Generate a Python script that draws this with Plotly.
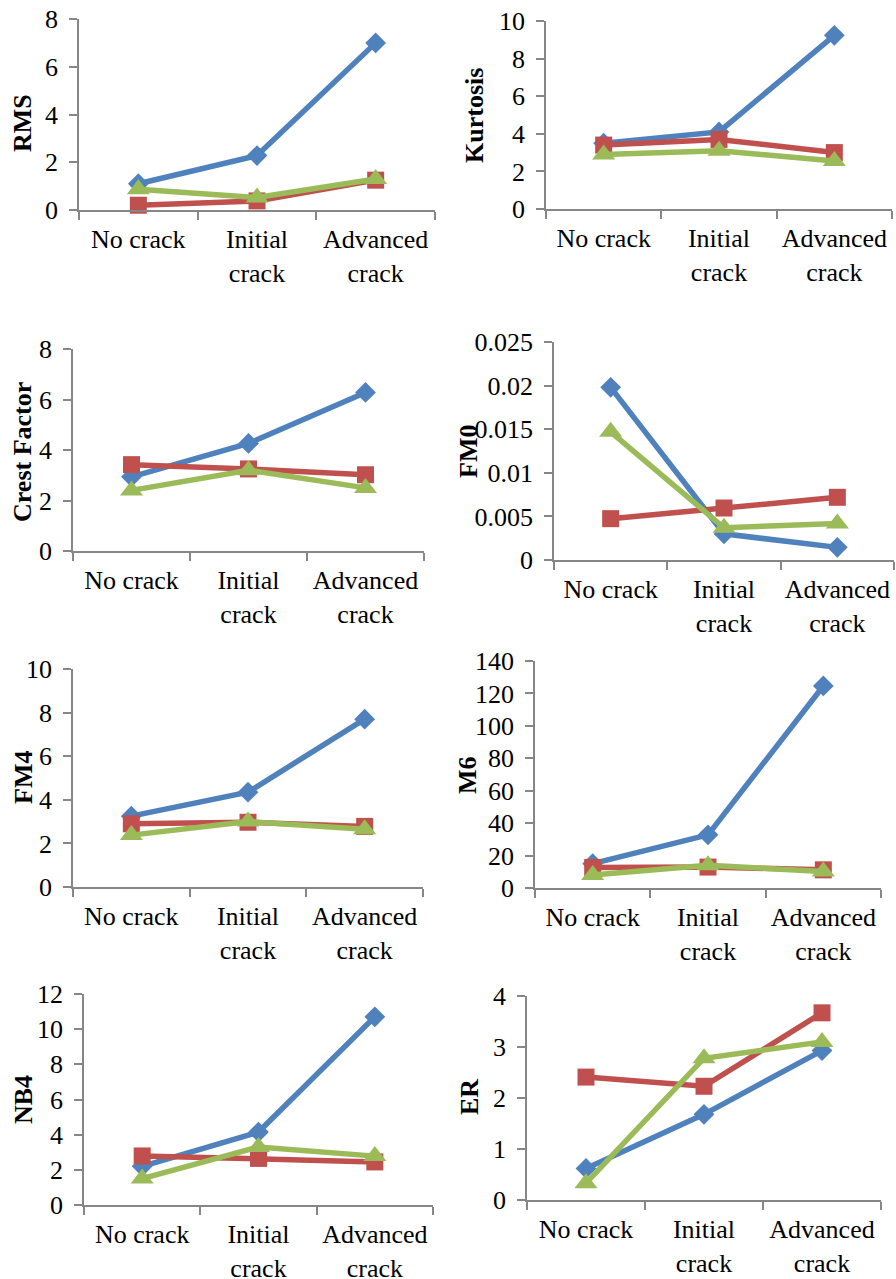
import plotly.graph_objects as go

W, H = 896, 1279

# ---------------- data ----------------
categories = ["No crack", "Initial<br>crack", "Advanced<br>crack"]

titles = ["RMS", "Kurtosis", "Crest Factor", "FM0", "FM4", "M6", "NB4", "ER"]

rms_blue = [1.1, 2.28, 7.0]
rms_red = [0.2, 0.38, 1.25]
rms_green = [0.87, 0.52, 1.3]

kurt_blue = [3.5, 4.1, 9.24]
kurt_red = [3.4, 3.7, 3.0]
kurt_green = [2.9, 3.1, 2.55]

crest_blue = [2.94, 4.26, 6.28]
crest_red = [3.42, 3.25, 3.02]
crest_green = [2.4, 3.2, 2.5]

fm0_blue = [0.0198, 0.0030, 0.00145]
fm0_red = [0.00474, 0.00596, 0.00719]
fm0_green = [0.0147, 0.0037, 0.0042]

fm4_blue = [3.25, 4.35, 7.7]
fm4_red = [2.9, 2.97, 2.78]
fm4_green = [2.38, 3.0, 2.65]

m6_blue = [15.0, 32.8, 124.6]
m6_red = [12.7, 12.9, 11.2]
m6_green = [8.0, 14.0, 10.2]

nb4_blue = [2.2, 4.15, 10.7]
nb4_red = [2.79, 2.65, 2.45]
nb4_green = [1.5, 3.3, 2.78]

er_blue = [0.62, 1.68, 2.93]
er_red = [2.41, 2.23, 3.67]
er_green = [0.33, 2.78, 3.1]

y_max = [8, 10, 8, 0.025, 10, 140, 12, 4]
y_step = [2, 2, 2, 0.005, 2, 20, 2, 1]

panels = [
    (rms_blue, rms_red, rms_green),
    (kurt_blue, kurt_red, kurt_green),
    (crest_blue, crest_red, crest_green),
    (fm0_blue, fm0_red, fm0_green),
    (fm4_blue, fm4_red, fm4_green),
    (m6_blue, m6_red, m6_green),
    (nb4_blue, nb4_red, nb4_green),
    (er_blue, er_red, er_green),
]

# ---------------- layout geometry (pixels) ----------------
# (x_left, x_right, y_top, y_bottom) of each plot area
boxes = [
    (79, 435, 19, 210),
    (546, 892, 21, 209),
    (73, 424, 349, 551),
    (554, 894, 342, 560),
    (73, 423, 669, 887),
    (535, 881, 661, 888),
    (84, 433, 994, 1205),
    (527, 881, 996, 1200),
]
# centre of the rotated y titles (pixels)
title_pos = [
    (23, 123), (474, 115), (23, 452), (469, 452),
    (23, 778), (467, 775), (23, 1100), (469, 1097),
]

colors = ["#4F81BD", "#C0504D", "#9BBB59"]
symbols = ["diamond", "square", "triangle-up"]
msizes = [16, 17, 20]
FONT = "Liberation Serif"
AXIS_COLOR = "#868686"

fig = go.Figure()
layout = dict(
    template="none",
    width=W, height=H,
    margin=dict(l=0, r=0, t=0, b=0, pad=0),
    paper_bgcolor="white", plot_bgcolor="white",
    showlegend=False,
    font=dict(family=FONT, size=26, color="black"),
)
annotations = []

for i, (series, box) in enumerate(zip(panels, boxes)):
    n = i + 1
    xa = "x" if n == 1 else f"x{n}"
    ya = "y" if n == 1 else f"y{n}"
    for vals, c, s, ms in zip(series, colors, symbols, msizes):
        fig.add_trace(go.Scatter(
            x=categories, y=vals, xaxis=xa, yaxis=ya,
            mode="lines+markers",
            line=dict(color=c, width=5.5),
            marker=dict(symbol=s, size=ms, color=c, line=dict(width=0)),
            cliponaxis=False,
        ))
    x0, x1, y0, y1 = box
    layout[f"xaxis{n}"] = dict(
        domain=[x0 / W, x1 / W], anchor=ya, automargin=False,
        type="category", range=[-0.5, 2.5], tickangle=0,
        showline=True, linecolor=AXIS_COLOR, linewidth=1.5,
        ticks="outside", ticklen=8, tickcolor=AXIS_COLOR, tickwidth=1.5,
        tickson="boundaries", showgrid=False, zeroline=False,
        tickfont=dict(family=FONT, size=26, color="black"),
        ticklabelstandoff=5,
        fixedrange=True,
    )
    layout[f"yaxis{n}"] = dict(
        domain=[1 - y1 / H, 1 - y0 / H], anchor=xa, automargin=False,
        range=[0, y_max[i]], dtick=y_step[i], tick0=0,
        showline=True, linecolor=AXIS_COLOR, linewidth=1.5,
        ticks="outside", ticklen=8, tickcolor=AXIS_COLOR, tickwidth=1.5,
        showgrid=False, zeroline=False,
        tickfont=dict(family=FONT, size=26, color="black"),
        ticklabelstandoff=6,
        fixedrange=True,
    )
    tx, ty = title_pos[i]
    annotations.append(dict(
        text=f"<b>{titles[i]}</b>", x=tx / W, y=1 - ty / H,
        xref="paper", yref="paper", showarrow=False, textangle=-90,
        xanchor="center", yanchor="middle",
        font=dict(family=FONT, size=26, color="black"),
    ))

layout["annotations"] = annotations
fig.update_layout(**layout)
fig.write_html("out.html")
